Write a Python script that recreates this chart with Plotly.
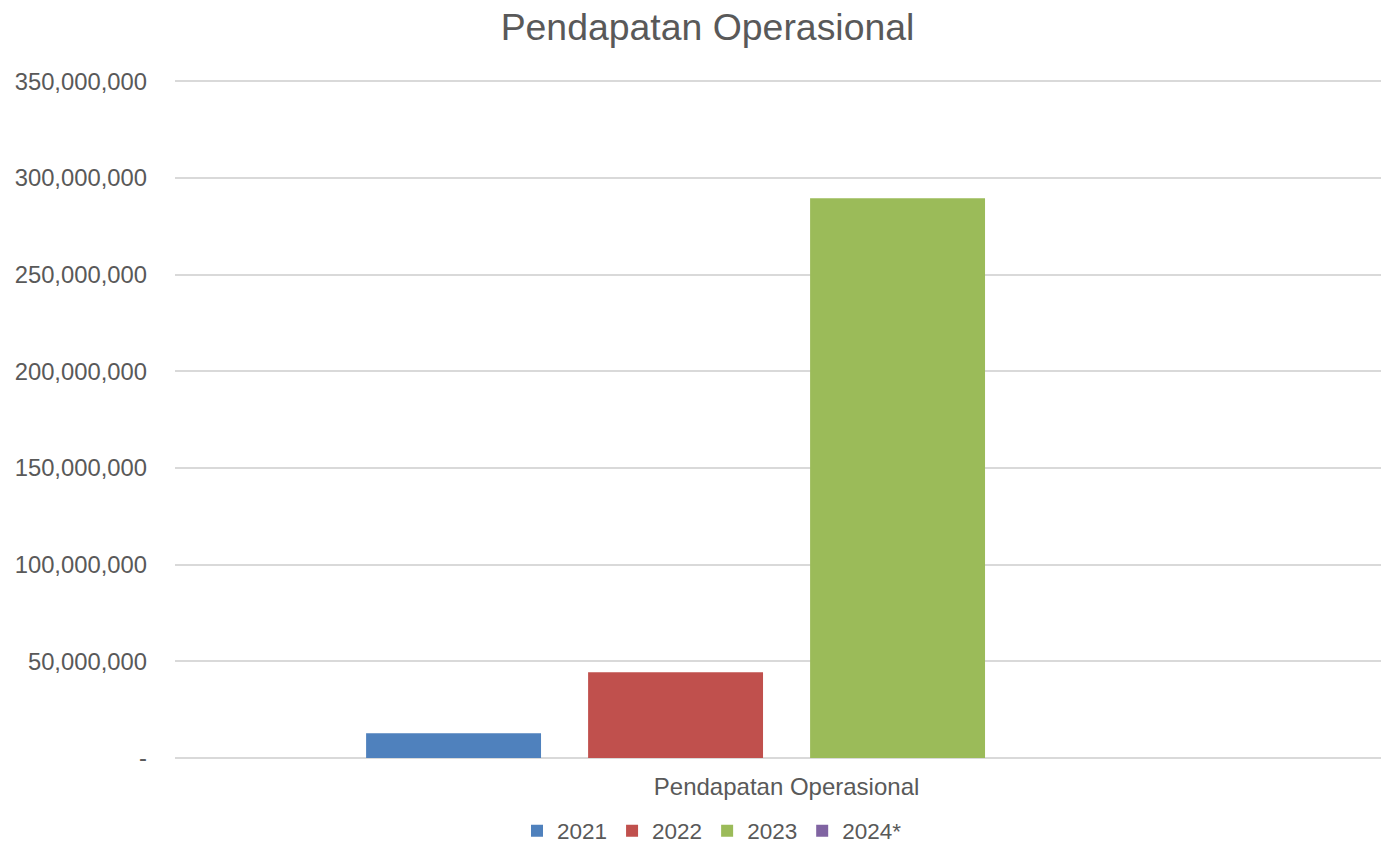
import plotly.graph_objects as go

category = ["Pendapatan Operasional"]
series_names = ["2021", "2022", "2023", "2024*"]
series_values = [
    [12_750_000],
    [44_300_000],
    [289_500_000],
    [None],
]
series_colors = ["#4F81BD", "#C0504D", "#9BBB59", "#8064A2"]

tick_vals = [0, 50_000_000, 100_000_000, 150_000_000, 200_000_000, 250_000_000, 300_000_000, 350_000_000]
tick_text = ["-", "50,000,000", "100,000,000", "150,000,000", "200,000,000", "250,000,000", "300,000,000", "350,000,000"]

FONT = "Liberation Sans, Arial, sans-serif"
TXT = "#595959"

fig = go.Figure()
for name, vals, col in zip(series_names, series_values, series_colors):
    fig.add_trace(go.Bar(name=name, x=category, y=vals, marker=dict(color=col, line=dict(width=0))))

fig.update_layout(
    width=1381, height=848,
    paper_bgcolor="white", plot_bgcolor="white",
    margin=dict(l=175, r=0, t=80, b=90, autoexpand=False),
    barmode="group", bargap=0.274, bargroupgap=0.212,
    font=dict(family=FONT, color=TXT, size=23),
    title=dict(text="Pendapatan Operasional", x=707.5 / 1381, xref="container", xanchor="center",
               y=1 - 27 / 848, yref="container", yanchor="middle",
               font=dict(size=37.4, color=TXT, family=FONT)),
    showlegend=True,
    legend=dict(orientation="h", x=712 / 1381, xref="container", xanchor="center",
                y=1 - 831 / 848, yref="container", yanchor="middle",
                maxheight=120, itemwidth=30,
                font=dict(size=22.5, color=TXT, family=FONT), traceorder="normal"),
    xaxis=dict(type="category", range=[-0.5, 0.486], showgrid=False, showline=False,
               zeroline=False, ticks="", tickfont=dict(size=24, color=TXT),
               ticklabelstandoff=12, automargin=False),
    yaxis=dict(range=[0, 350_600_000], tickvals=tick_vals, ticktext=tick_text,
               showgrid=True, gridcolor="#D9D9D9", gridwidth=1.5,
               zeroline=True, zerolinecolor="#D9D9D9", zerolinewidth=1.5,
               showline=False, ticks="", tickfont=dict(size=23.8, color=TXT),
               ticklabelstandoff=27, automargin=False),
)

fig.write_html("out.html", config={"displayModeBar": False},
               post_script="document.body.style.margin='0';document.body.style.overflow='hidden';")
